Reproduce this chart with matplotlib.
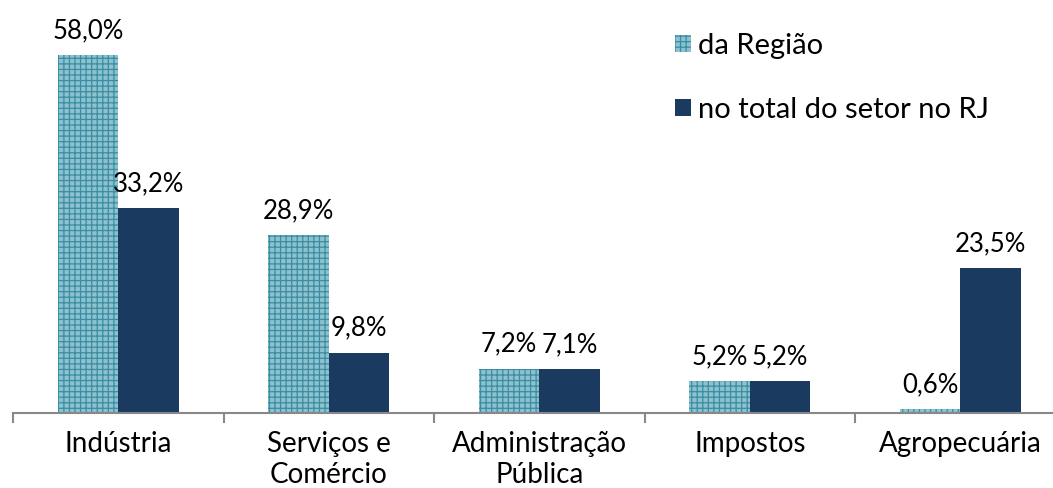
import numpy as np
import matplotlib
matplotlib.use('Agg')
import matplotlib.pyplot as plt

plt.rcParams['font.family'] = ['Lato', 'DejaVu Sans']
plt.rcParams['hatch.linewidth'] = 0.9

# Dados do gráfico
categorias = ['Indústria', 'Serviços e\nComércio', 'Administração\nPública', 'Impostos', 'Agropecuária']
da_regiao = [58.0, 28.9, 7.2, 5.2, 0.6]
total_rj = [33.2, 9.8, 7.1, 5.2, 23.5]
series_nomes = ['da Região', 'no total do setor no RJ']

cor_clara = '#8dc1cd'
cor_hatch = '#3a8ea3'
cor_escura = '#1b3a5f'

fig = plt.figure(figsize=(10.53, 4.88), dpi=100)
ax = fig.add_axes([13 / 1053, 75 / 488, 1040 / 1053, 413 / 488])

x = np.arange(len(categorias))
w = 0.287

b1 = ax.bar(x - w / 2, da_regiao, w, color=cor_clara, edgecolor=cor_hatch,
            hatch='+++', linewidth=0, label=series_nomes[0])
b2 = ax.bar(x + w / 2, total_rj, w, color=cor_escura, linewidth=0,
            label=series_nomes[1])

def fmt(v):
    return f'{v:.1f}%'.replace('.', ',')

ax.bar_label(b1, labels=[fmt(v) for v in da_regiao], padding=8.5, fontsize=18.5)
ax.bar_label(b2, labels=[fmt(v) for v in total_rj], padding=8.5, fontsize=18.5)

for s in ['top', 'right', 'left']:
    ax.spines[s].set_visible(False)
ax.spines['bottom'].set_color('#888888')
ax.spines['bottom'].set_linewidth(1.5)
ax.set_yticks([])

# ticks nas divisões entre grupos
ax.set_xticks(np.arange(-0.5, 5, 1))
ax.tick_params(axis='x', which='major', length=7, width=1.5, color='#888888', labelbottom=False)
ax.set_xticks(x, minor=True)
ax.set_xticklabels(categorias, minor=True, fontsize=20, linespacing=1.22)
ax.tick_params(axis='x', which='minor', length=0, pad=13)

ax.set_xlim(-0.5, (1040 / 210.5) - 0.5)
ax.set_ylim(0, 67)

ax.legend(loc='upper left', bbox_to_anchor=(0.637, 0.92), frameon=False,
          fontsize=21, handlelength=0.52, handleheight=0.52, handletextpad=0.25,
          labelspacing=1.3, borderaxespad=0, borderpad=0)

fig.savefig('out.png', dpi=100)
